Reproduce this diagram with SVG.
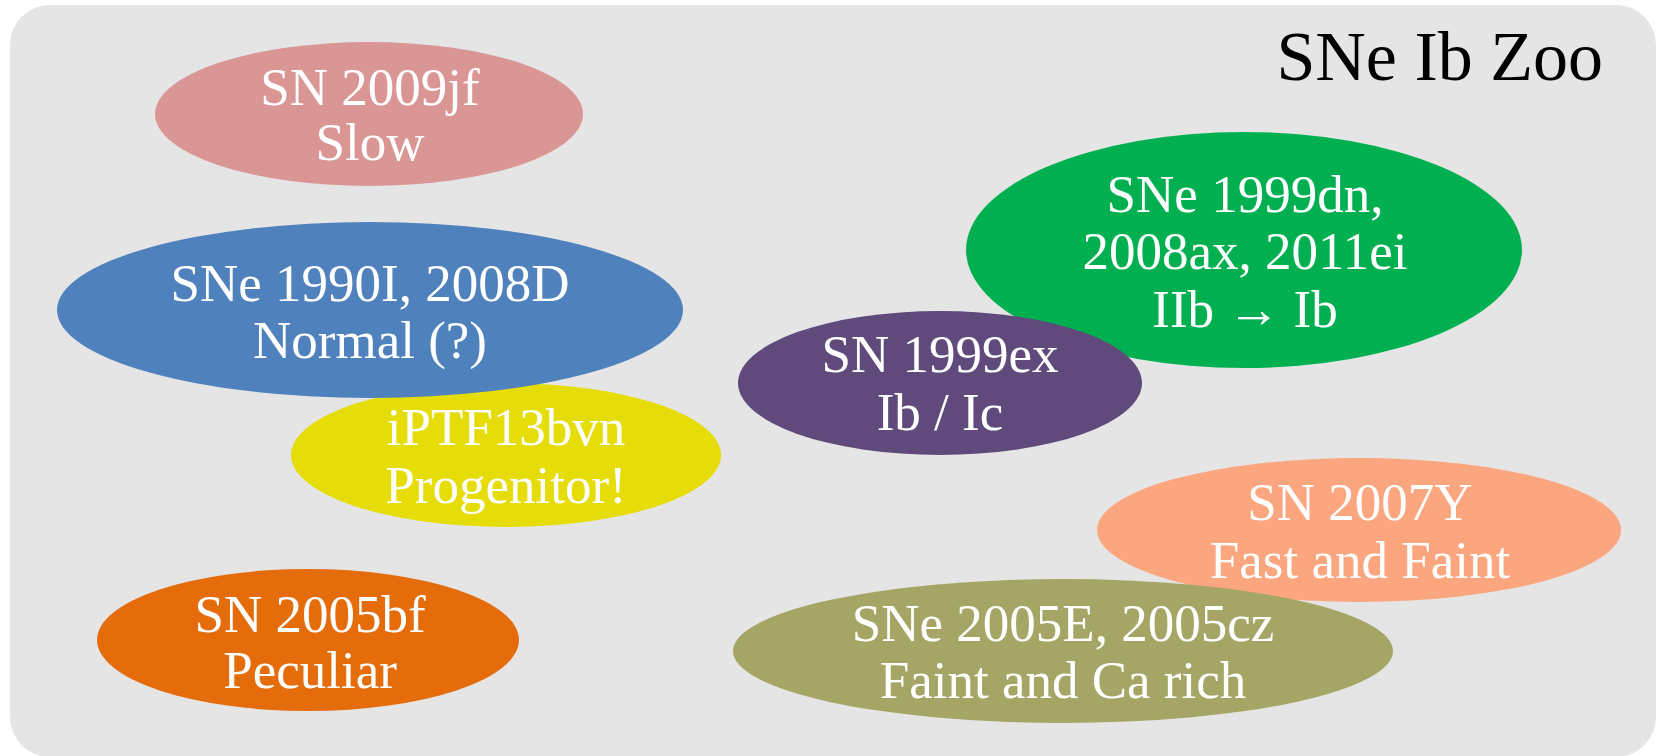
<svg xmlns="http://www.w3.org/2000/svg" width="1658" height="756" viewBox="0 0 1658 756">
<style>
.n text{font-family:"Liberation Serif","Times New Roman",serif;font-size:53px;fill:#ffffff;text-anchor:middle}
.title{font-family:"Liberation Serif","Times New Roman",serif;font-size:70px;fill:#000000;text-anchor:end}
</style>
<rect x="0" y="0" width="1658" height="756" fill="#ffffff"/>
<rect id="panel" x="10" y="5" width="1646" height="752" rx="40" ry="40" fill="#e5e5e5"/>
<text class="title" x="1603" y="80">SNe Ib Zoo</text>
<g id="sn2009jf" class="n">
<ellipse cx="369" cy="114" rx="214" ry="72" fill="#d99694"/>
<text x="370" y="105">SN 2009jf</text>
<text x="370" y="160">Slow</text>
</g>
<g id="iptf13bvn" class="n">
<ellipse cx="506" cy="455" rx="215" ry="72" fill="#e5dc08"/>
<text x="506" y="445">iPTF13bvn</text>
<text x="506" y="503">Progenitor!</text>
</g>
<g id="sn1990i" class="n">
<ellipse cx="370" cy="310" rx="313" ry="88" fill="#4f81bd"/>
<text x="370" y="301">SNe 1990I, 2008D</text>
<text x="370" y="358">Normal (?)</text>
</g>
<g id="sn2005bf" class="n">
<ellipse cx="308" cy="640" rx="211" ry="71" fill="#e46c0a"/>
<text x="310" y="632">SN 2005bf</text>
<text x="310" y="688">Peculiar</text>
</g>
<g id="sn1999dn" class="n">
<ellipse cx="1244" cy="250" rx="278" ry="118" fill="#00b050"/>
<text x="1245" y="212">SNe 1999dn,</text>
<text x="1245" y="269">2008ax, 2011ei</text>
<text x="1245" y="327">IIb → Ib</text>
</g>
<g id="sn1999ex" class="n">
<ellipse cx="940" cy="383" rx="202" ry="72" fill="#604a7b"/>
<text x="940" y="372">SN 1999ex</text>
<text x="940" y="430">Ib / Ic</text>
</g>
<g id="sn2007y" class="n">
<ellipse cx="1359" cy="530" rx="262" ry="72" fill="#fba67e"/>
<text x="1360" y="520">SN 2007Y</text>
<text x="1360" y="578">Fast and Faint</text>
</g>
<g id="sn2005e" class="n">
<ellipse cx="1063" cy="651" rx="330" ry="72" fill="#a5a665"/>
<text x="1063" y="641">SNe 2005E, 2005cz</text>
<text x="1063" y="698">Faint and Ca rich</text>
</g>
<g id="connectors"/>
</svg>
